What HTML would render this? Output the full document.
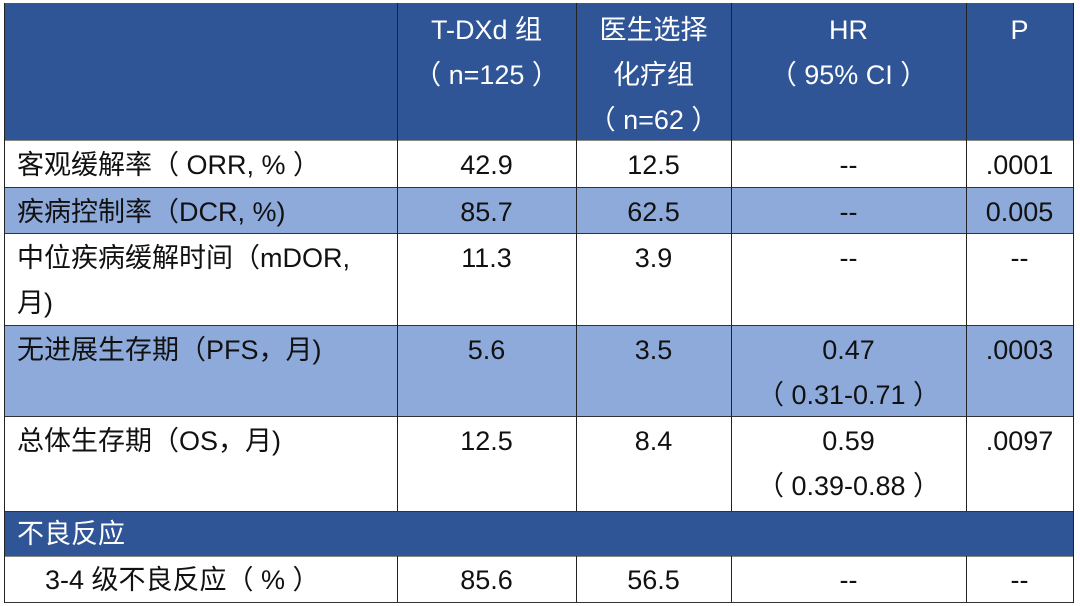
<!DOCTYPE html>
<html><head><meta charset="utf-8">
<style>
html,body{margin:0;padding:0;background:#fff;}
body{width:1080px;height:606px;position:relative;overflow:hidden;font-family:"Liberation Sans","Noto Sans CJK SC",sans-serif;font-size:27px;color:#111;}
.r{position:absolute;}
.h{background:#2f5597;}
.l{background:#8eaadb;}
.w{background:#fff;}
.vl{position:absolute;width:1px;background:#222;}
.hl{position:absolute;height:1px;background:#333;}
.t{position:absolute;line-height:45px;white-space:pre;}
.c{text-align:center;}
.wt{color:#fff;}
</style></head><body>
<!-- row backgrounds -->
<div class="r h" style="left:4px;top:3px;width:1070px;height:137px"></div>
<div class="r w" style="left:4px;top:140px;width:1070px;height:47px"></div>
<div class="r l" style="left:4px;top:187px;width:1070px;height:46px"></div>
<div class="r w" style="left:4px;top:233px;width:1070px;height:92px"></div>
<div class="r l" style="left:4px;top:325px;width:1070px;height:91px"></div>
<div class="r w" style="left:4px;top:416px;width:1070px;height:95px"></div>
<div class="r h" style="left:4px;top:511px;width:1070px;height:45px"></div>
<div class="r w" style="left:4px;top:556px;width:1070px;height:46px"></div>

<!-- horizontal lines -->
<div class="hl" style="left:4px;top:3px;width:1070px;background:#555"></div>
<div class="hl" style="left:4px;top:140px;width:1070px;background:#888"></div>
<div class="hl" style="left:4px;top:187px;width:1070px"></div>
<div class="hl" style="left:4px;top:233px;width:1070px"></div>
<div class="hl" style="left:4px;top:325px;width:1070px"></div>
<div class="hl" style="left:4px;top:416px;width:1070px"></div>
<div class="hl" style="left:4px;top:511px;width:1070px"></div>
<div class="hl" style="left:4px;top:556px;width:1070px;background:#888"></div>
<div class="hl" style="left:4px;top:602px;width:1070px"></div>

<!-- vertical lines -->
<div class="vl" style="left:4px;top:3px;height:600px"></div>
<div class="vl" style="left:1073px;top:3px;height:600px"></div>
<div class="vl" style="left:397px;top:3px;height:508px"></div>
<div class="vl" style="left:576px;top:3px;height:508px"></div>
<div class="vl" style="left:731px;top:3px;height:508px"></div>
<div class="vl" style="left:966px;top:3px;height:508px"></div>
<div class="vl" style="left:397px;top:556px;height:46px"></div>
<div class="vl" style="left:576px;top:556px;height:46px"></div>
<div class="vl" style="left:731px;top:556px;height:46px"></div>
<div class="vl" style="left:966px;top:556px;height:46px"></div>

<!-- header text -->
<div class="t c wt" style="left:397px;width:179px;top:8px">T-DXd 组
（ n=125 ）</div>
<div class="t c wt" style="left:576px;width:155px;top:8px">医生选择
化疗组
（ n=62 ）</div>
<div class="t c wt" style="left:731px;width:235px;top:8px">HR
（ 95% CI ）</div>
<div class="t c wt" style="left:966px;width:107px;top:8px">P</div>

<!-- ORR -->
<div class="t" style="left:17px;top:143px">客观缓解率（ ORR, % ）</div>
<div class="t c" style="left:397px;width:179px;top:143px">42.9</div>
<div class="t c" style="left:576px;width:155px;top:143px">12.5</div>
<div class="t c" style="left:731px;width:235px;top:143px">--</div>
<div class="t c" style="left:966px;width:107px;top:143px">.0001</div>

<!-- DCR -->
<div class="t" style="left:17px;top:190px">疾病控制率（DCR, %)</div>
<div class="t c" style="left:397px;width:179px;top:190px">85.7</div>
<div class="t c" style="left:576px;width:155px;top:190px">62.5</div>
<div class="t c" style="left:731px;width:235px;top:190px">--</div>
<div class="t c" style="left:966px;width:107px;top:190px">0.005</div>

<!-- mDOR -->
<div class="t" style="left:17px;top:236px">中位疾病缓解时间（mDOR,
月)</div>
<div class="t c" style="left:397px;width:179px;top:236px">11.3</div>
<div class="t c" style="left:576px;width:155px;top:236px">3.9</div>
<div class="t c" style="left:731px;width:235px;top:236px">--</div>
<div class="t c" style="left:966px;width:107px;top:236px">--</div>

<!-- PFS -->
<div class="t" style="left:17px;top:328px">无进展生存期（PFS，月)</div>
<div class="t c" style="left:397px;width:179px;top:328px">5.6</div>
<div class="t c" style="left:576px;width:155px;top:328px">3.5</div>
<div class="t c" style="left:731px;width:235px;top:328px">0.47
（ 0.31-0.71 ）</div>
<div class="t c" style="left:966px;width:107px;top:328px">.0003</div>

<!-- OS -->
<div class="t" style="left:17px;top:419px">总体生存期（OS，月)</div>
<div class="t c" style="left:397px;width:179px;top:419px">12.5</div>
<div class="t c" style="left:576px;width:155px;top:419px">8.4</div>
<div class="t c" style="left:731px;width:235px;top:419px">0.59
（ 0.39-0.88 ）</div>
<div class="t c" style="left:966px;width:107px;top:419px">.0097</div>

<!-- 不良反应 -->
<div class="t wt" style="left:17px;top:512px">不良反应</div>

<!-- 3-4 -->
<div class="t" style="left:45px;top:558px">3-4 级不良反应（ % ）</div>
<div class="t c" style="left:397px;width:179px;top:558px">85.6</div>
<div class="t c" style="left:576px;width:155px;top:558px">56.5</div>
<div class="t c" style="left:731px;width:235px;top:558px">--</div>
<div class="t c" style="left:966px;width:107px;top:558px">--</div>
</body></html>
